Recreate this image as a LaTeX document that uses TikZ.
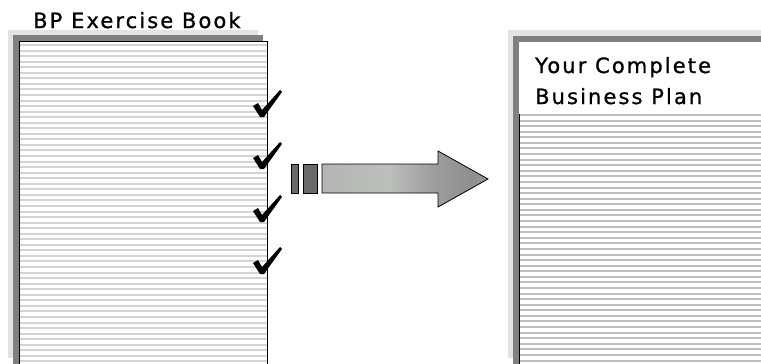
\documentclass[tikz,border=0pt]{standalone}
\usepackage{fontspec}
\setmainfont{DejaVu Sans}[LetterSpace=10, FakeBold=1]
\definecolor{backc}{RGB}{226,228,226}
\definecolor{bandc}{RGB}{128,128,128}
\definecolor{lline}{RGB}{212,212,212}
\definecolor{rline}{RGB}{190,190,190}
\definecolor{arrdark}{RGB}{105,105,105}
\pgfdeclarehorizontalshading{arrowshade}{100bp}{
  rgb(0bp)=(0.42,0.42,0.42);
  rgb(8bp)=(0.50,0.50,0.50);
  rgb(25bp)=(0.70,0.71,0.70);
  rgb(45bp)=(0.74,0.75,0.74);
  rgb(58bp)=(0.62,0.62,0.62);
  rgb(70bp)=(0.56,0.56,0.56);
  rgb(78bp)=(0.62,0.62,0.62);
  rgb(100bp)=(0.45,0.45,0.45)}
\tikzset{
  txtlabel/.style={anchor=base west, inner sep=0pt, font=\fontsize{21}{24}\selectfont},
  checkmk/.pic={\fill[black] (0,16) -- (5,13) -- (9,20) -- (27,0) -- (29,2) -- (11,27) -- (7,27) -- cycle;},
  bar/.style={fill=arrdark, draw=black, line width=0.8pt}
}
\begin{document}
\begin{tikzpicture}[x=1pt,y=-1pt]
\useasboundingbox (0,0) rectangle (761,364);
% left book
\fill[backc] (8,30) rectangle (258,358);
\fill[bandc] (13,35) rectangle (263,364);
\fill[white] (19,41) rectangle (268,364);
\foreach \i in {0,...,57} \draw[lline, line width=2pt] (20,45+\i*5.55) -- (267,45+\i*5.55);
\draw[black, line width=1pt] (19,364) -- (19,41.5) -- (267.5,41.5) -- (267.5,364);
\node[txtlabel] (title) at (33,28) {BP Exercise Book};
% checkmarks
\pic at (253,90) {checkmk};
\pic at (253,142) {checkmk};
\pic at (253,195) {checkmk};
\pic at (253,247) {checkmk};
% right book
\fill[backc] (508,30) rectangle (761,358);
\fill[bandc] (513,36) rectangle (761,364);
\fill[white] (519,42) rectangle (761,364);
\foreach \i in {0,...,44} \draw[rline, line width=2pt] (520,115+\i*5.58) -- (761,115+\i*5.58);
\draw[black, line width=1pt] (519.5,114) -- (519.5,364);
\node[txtlabel] (plan1) at (535,73) {Your Complete};
\node[txtlabel] (plan2) at (535,104) {Business Plan};
% arrow
\draw[bar] (291,164) rectangle (298,193);
\draw[bar] (303,164) rectangle (317,193);
\shade[shading=arrowshade, draw=black, line width=0.8pt]
  (322,164) -- (438,164) -- (438,151) -- (488,179) -- (438,207) -- (438,193) -- (322,193) -- cycle;
\end{tikzpicture}
\end{document}
